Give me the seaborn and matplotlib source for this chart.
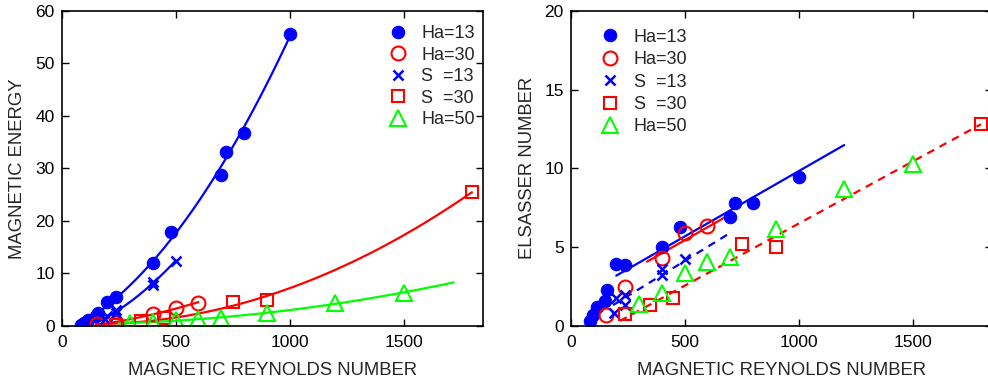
import numpy as np
import matplotlib
matplotlib.use("Agg")
import matplotlib.pyplot as plt
import seaborn as sns

# ---- data -------------------------------------------------------------
rm_ha13 = [85, 100, 115, 150, 160, 200, 240, 400, 480, 700, 720, 800, 1000]
me_ha13 = [0.1, 0.6, 1.0, 1.8, 2.4, 4.6, 5.4, 11.9, 17.9, 28.7, 33.1, 36.7, 55.7]
el_ha13 = [0.3, 0.68, 1.17, 1.59, 2.27, 3.92, 3.84, 4.98, 6.29, 6.93, 7.77, 7.77, 9.43]

rm_ha30 = [155, 240, 400, 500, 600]
me_ha30 = [0.3, 0.5, 2.2, 3.4, 4.4]
el_ha30 = [0.68, 2.44, 4.28, 5.87, 6.33]

rm_s13 = [190, 200, 240, 240, 400, 400, 500]
me_s13 = [1.2, 1.9, 2.4, 3.0, 7.8, 8.4, 12.4]
el_s13 = [0.8, 1.74, 1.31, 1.95, 3.23, 3.58, 4.22]

rm_s30 = [240, 350, 450, 750, 900, 1800]
me_s30 = [0.1, 0.9, 1.4, 4.5, 4.9, 25.5]
el_s30 = [0.74, 1.3, 1.74, 5.19, 4.98, 12.8]

rm_ha50 = [300, 400, 500, 600, 700, 900, 1200, 1500]
me_ha50 = [0.45, 0.76, 1.1, 1.2, 1.5, 2.4, 4.3, 6.3]
el_ha50 = [1.38, 2.1, 3.33, 4.03, 4.34, 6.12, 8.68, 10.3]

# Rm ranges over which the quadratic energy fits are drawn
fit_range_ha13 = [80, 1000]
fit_range_s13 = [180, 500]
fit_range_ha30 = [150, 600]
fit_range_s30 = [150, 1800]
fit_range_ha50 = [250, 1720]

# linear Elsasser-number fits (end points)
lin_ha13_x = [200, 1200]
lin_ha13_y = [3.18, 11.48]
lin_ha30_x = [335, 700]
lin_ha30_y = [4.07, 7.08]
lin_s13_x = [186, 700]
lin_s13_y = [1.31, 5.9]
lin_s30_x = [216, 1800]
lin_s30_y = [0.3, 12.8]

labels = ["Ha=13", "Ha=30", "S  =13", "S  =30", "Ha=50"]

# ---- style ------------------------------------------------------------
sns.set_theme(style="ticks")
plt.rcParams["font.family"] = ["Liberation Sans", "DejaVu Sans"]
plt.rcParams.update({
    "font.size": 12.5,
    "xtick.direction": "in",
    "ytick.direction": "in",
    "xtick.top": True,
    "ytick.right": True,
    "xtick.major.size": 5,
    "ytick.major.size": 5,
    "xtick.major.width": 1.0,
    "ytick.major.width": 1.0,
    "axes.linewidth": 1.2,
    "axes.edgecolor": "black",
    "xtick.color": "black",
    "ytick.color": "black",
    "xtick.labelsize": 12.5,
    "ytick.labelsize": 12.5,
    "axes.labelsize": 13.3,
})

BLUE, RED, GREEN = "#0000ff", "#ff0000", "#00ff00"
LW = 1.6

marker_styles = [
    dict(marker="o", color=BLUE, markerfacecolor=BLUE, markeredgecolor=BLUE, markersize=9),
    dict(marker="o", color=RED, markerfacecolor="none", markeredgecolor=RED, markersize=10, markeredgewidth=1.5),
    dict(marker="x", color=BLUE, markeredgecolor=BLUE, markersize=7, markeredgewidth=1.8),
    dict(marker="s", color=RED, markerfacecolor="none", markeredgecolor=RED, markersize=8, markeredgewidth=1.5),
    dict(marker="^", color=GREEN, markerfacecolor="none", markeredgecolor=GREEN, markersize=11, markeredgewidth=1.5),
]

fig = plt.figure(figsize=(9.88, 3.87), dpi=100)
ax1 = fig.add_axes([61.7 / 988, 1 - 325.7 / 387, 421.6 / 988, 314.7 / 387])
ax2 = fig.add_axes([570.7 / 988, 1 - 325.7 / 387, 421.6 / 988, 314.7 / 387])


def draw_points(ax, xs_list, ys_list):
    for xs, ys, lab, st in zip(xs_list, ys_list, labels, marker_styles):
        sns.lineplot(x=xs, y=ys, ax=ax, estimator=None, sort=False,
                     linestyle="", label=lab, legend=False, **st)


def quad_fit(ax, xs, ys, rng, color):
    coef = np.polyfit(xs, ys, 2)
    grid = np.linspace(rng[0], rng[1], 200)
    sns.lineplot(x=grid, y=np.polyval(coef, grid), ax=ax, color=color,
                 linewidth=LW, estimator=None, sort=False)


# ---- left: magnetic energy ---------------------------------------------
quad_fit(ax1, rm_ha13, me_ha13, fit_range_ha13, BLUE)
quad_fit(ax1, rm_s13, me_s13, fit_range_s13, BLUE)
quad_fit(ax1, rm_ha30, me_ha30, fit_range_ha30, RED)
quad_fit(ax1, rm_s30, me_s30, fit_range_s30, RED)
quad_fit(ax1, rm_ha50, me_ha50, fit_range_ha50, GREEN)
draw_points(ax1, [rm_ha13, rm_ha30, rm_s13, rm_s30, rm_ha50],
            [me_ha13, me_ha30, me_s13, me_s30, me_ha50])

ax1.set_xlim(0, 1850)
ax1.set_ylim(0, 60)
ax1.set_xticks([0, 500, 1000, 1500])
ax1.set_yticks([0, 10, 20, 30, 40, 50, 60])
ax1.set_xlabel("MAGNETIC REYNOLDS NUMBER", labelpad=9)
ax1.set_ylabel("MAGNETIC ENERGY", labelpad=7)

# ---- right: Elsasser number --------------------------------------------
sns.lineplot(x=lin_ha13_x, y=lin_ha13_y, ax=ax2, color=BLUE, linewidth=LW, estimator=None)
sns.lineplot(x=lin_ha30_x, y=lin_ha30_y, ax=ax2, color=RED, linewidth=LW, estimator=None)
sns.lineplot(x=lin_s13_x, y=lin_s13_y, ax=ax2, color=BLUE, linewidth=LW, estimator=None,
             dashes=False, linestyle=(0, (3.5, 2.8)))
sns.lineplot(x=lin_s30_x, y=lin_s30_y, ax=ax2, color=RED, linewidth=LW, estimator=None,
             dashes=False, linestyle=(0, (3.5, 2.8)))
draw_points(ax2, [rm_ha13, rm_ha30, rm_s13, rm_s30, rm_ha50],
            [el_ha13, el_ha30, el_s13, el_s30, el_ha50])

ax2.set_xlim(0, 1850)
ax2.set_ylim(0, 20)
ax2.set_xticks([0, 500, 1000, 1500])
ax2.set_yticks([0, 5, 10, 15, 20])
ax2.set_xlabel("MAGNETIC REYNOLDS NUMBER", labelpad=9)
ax2.set_ylabel("ELSASSER NUMBER", labelpad=6)

for ax in (ax1, ax2):
    for sp in ax.spines.values():
        sp.set_visible(True)
    ax.tick_params(which="both", direction="in", top=True, right=True)
    ax.tick_params(axis="x", pad=6.5)
    ax.tick_params(axis="y", pad=5)

# legends built from the marker handles only
legend_specs = (
    (ax1, (1.0095, 0.995), "upper right", 0.25),
    (ax2, (0.043, 0.984), "upper left", 0.3),
)
for ax, anchor, loc, spacing in legend_specs:
    handles = [h for h in ax.get_lines() if h.get_label() in labels]
    ax.legend(handles=handles, labels=labels, loc=loc, bbox_to_anchor=anchor,
              frameon=False, handlelength=1.0, handletextpad=0.8,
              labelspacing=spacing, borderaxespad=0.3, fontsize=13)

fig.savefig("out.png", dpi=100)
